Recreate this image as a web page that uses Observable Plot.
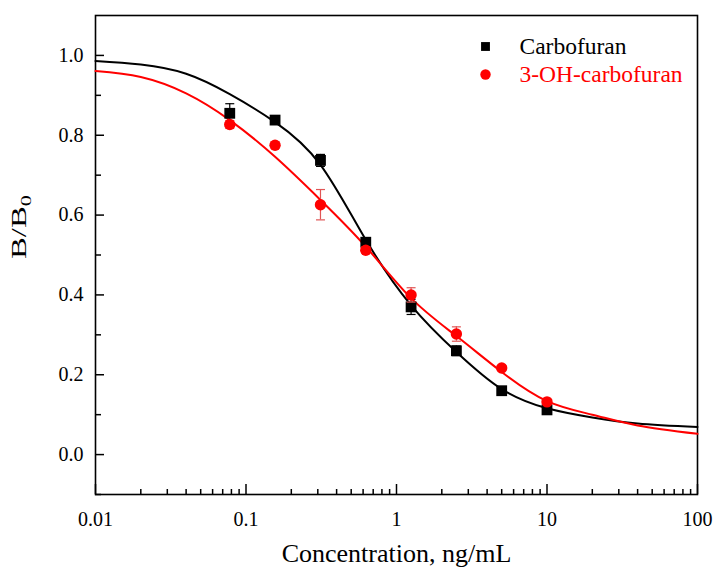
<!DOCTYPE html>
<html>
<head>
<meta charset="utf-8">
<script src="https://cdn.jsdelivr.net/npm/d3@7"></script>
<script src="https://cdn.jsdelivr.net/npm/@observablehq/plot@0.6"></script>
<style>
  body { margin: 0; background: #ffffff; }
  #chart svg { display: block; }
</style>
</head>
<body>
<div id="chart"></div>
<script>
// ---- measured points (concentration in ng/mL, B/B0) ----
const concentrations = [0.078, 0.156, 0.3125, 0.625, 1.25, 2.5, 5, 10];
const carbofuran     = [0.855, 0.838, 0.737, 0.532, 0.370, 0.260, 0.160, 0.112];
const carbofuranErr  = [0.024, 0.008, 0.015, 0.008, 0.019, 0.012, 0.006, 0.006];
const ohCarbofuran    = [0.827, 0.775, 0.626, 0.512, 0.400, 0.302, 0.217, 0.132];
const ohCarbofuranErr = [0.010, 0.008, 0.038, 0.008, 0.018, 0.018, 0.006, 0.006];

// ---- fitted curves ----
const fitConc          = [0.01, 0.02, 0.04, 0.078, 0.156, 0.3125, 0.625, 1.25, 2.5, 5, 10, 20, 40, 100];
const carbofuranFit    = [0.986, 0.977, 0.954, 0.903, 0.833, 0.726, 0.538, 0.374, 0.257, 0.164, 0.116, 0.093, 0.078, 0.069];
const ohCarbofuranFit  = [0.961, 0.946, 0.905, 0.838, 0.746, 0.638, 0.521, 0.392, 0.297, 0.207, 0.134, 0.100, 0.073, 0.052];

// ---- axes ----
const xMajorTicks = [0.01, 0.1, 1, 10, 100];
const xTickLabels = ["0.01", "0.1", "1", "10", "100"];
const xMinorTicks = [0.02,0.03,0.04,0.05,0.06,0.07,0.08,0.09,
                     0.2,0.3,0.4,0.5,0.6,0.7,0.8,0.9,
                     2,3,4,5,6,7,8,9,
                     20,30,40,50,60,70,80,90];
const yMajorTicks = [0.0, 0.2, 0.4, 0.6, 0.8, 1.0];
const yMinorTicks = [-0.1, 0.1, 0.3, 0.5, 0.7, 0.9];
const xDomain = [0.01, 100];
const yDomain = [-0.1, 1.1];

const seriesNames = ["Carbofuran", "3-OH-carbofuran"];
const xTitle = "Concentration, ng/mL";
const yTitle = "B/B0";

// ---- rows built from the arrays ----
const blackRows = concentrations.map((c, i) => ({x: c, y: carbofuran[i], e: carbofuranErr[i]}));
const redRows = concentrations.map((c, i) => ({x: c, y: ohCarbofuran[i], e: ohCarbofuranErr[i]}));
const blackFit = fitConc.map((c, i) => ({x: c, y: carbofuranFit[i]}));
const redFit = fitConc.map((c, i) => ({x: c, y: ohCarbofuranFit[i]}));
const xLabelOf = new Map(xMajorTicks.map((t, i) => [t, xTickLabels[i]]));

const capSymbol = {
  draw(ctx, size) {
    const h = Math.sqrt(size / Math.PI);
    ctx.moveTo(-h, 0);
    ctx.lineTo(h, 0);
  }
};

const RED = "#ff0000";
const ERR_RED = "#e05555";
const FONT = "'Liberation Serif', 'Times New Roman', serif";

const chart = Plot.plot({
  width: 713,
  height: 570,
  marginLeft: 95,
  marginRight: 16,
  marginTop: 15,
  marginBottom: 76,
  style: {fontFamily: FONT, fontSize: "20px", background: "#ffffff", color: "#000"},
  x: {type: "log", domain: xDomain},
  y: {domain: yDomain},
  marks: [
    // axes with inward ticks
    Plot.axisY(yMajorTicks, {tickSize: -9, tickPadding: 21, strokeWidth: 1.5,
      tickFormat: d3.format(".1f"), fontSize: 20, label: null}),
    Plot.axisY(yMinorTicks, {tickSize: -6, tickPadding: 0, strokeWidth: 1.5,
      tickFormat: () => "", label: null}),
    Plot.axisX(xMajorTicks, {tickSize: -10, tickPadding: 27, strokeWidth: 1.5,
      tickFormat: d => xLabelOf.get(d) ?? String(d), fontSize: 20, label: null}),
    Plot.axisX(xMinorTicks, {tickSize: -5, tickPadding: 0, strokeWidth: 1.5,
      tickFormat: () => "", label: null}),
    Plot.frame({stroke: "#000", strokeWidth: 1.6}),

    // fitted curves
    Plot.line(blackFit, {x: "x", y: "y", curve: "natural", stroke: "#000", strokeWidth: 2}),
    Plot.line(redFit, {x: "x", y: "y", curve: "natural", stroke: RED, strokeWidth: 2}),

    // carbofuran error bars + points
    Plot.ruleX(blackRows, {x: "x", y1: d => d.y - d.e, y2: d => d.y + d.e, stroke: "#000", strokeWidth: 1.2}),
    Plot.dot(blackRows, {x: "x", y: d => d.y + d.e, symbol: capSymbol, r: 4.5, stroke: "#000", strokeWidth: 1.2, fill: "none"}),
    Plot.dot(blackRows, {x: "x", y: d => d.y - d.e, symbol: capSymbol, r: 4.5, stroke: "#000", strokeWidth: 1.2, fill: "none"}),
    Plot.dot(blackRows, {x: "x", y: "y", symbol: "square", r: 6.1, fill: "#000", stroke: "none"}),

    // 3-OH-carbofuran error bars + points
    Plot.ruleX(redRows, {x: "x", y1: d => d.y - d.e, y2: d => d.y + d.e, stroke: ERR_RED, strokeWidth: 1.2}),
    Plot.dot(redRows, {x: "x", y: d => d.y + d.e, symbol: capSymbol, r: 4.5, stroke: ERR_RED, strokeWidth: 1.2, fill: "none"}),
    Plot.dot(redRows, {x: "x", y: d => d.y - d.e, symbol: capSymbol, r: 4.5, stroke: ERR_RED, strokeWidth: 1.2, fill: "none"}),
    Plot.dot(redRows, {x: "x", y: "y", symbol: "circle", r: 5.7, fill: RED, stroke: "none"}),

    // legend
    Plot.dot([seriesNames[0]], {frameAnchor: "top-right", dx: -212, dy: 31, symbol: "square", r: 5, fill: "#000"}),
    Plot.text([seriesNames[0]], {frameAnchor: "top-right", dx: -178, dy: 31, text: d => d,
      textAnchor: "start", lineAnchor: "middle", fontSize: 23.5, fill: "#000"}),
    Plot.dot([seriesNames[1]], {frameAnchor: "top-right", dx: -212, dy: 59, symbol: "circle", r: 5.2, fill: RED}),
    Plot.text([seriesNames[1]], {frameAnchor: "top-right", dx: -178, dy: 59, text: d => d,
      textAnchor: "start", lineAnchor: "middle", fontSize: 23.5, fill: RED}),

    // axis titles
    Plot.text([xTitle], {frameAnchor: "bottom", dy: 59, text: d => d, lineAnchor: "middle", fontSize: 26, fill: "#000"}),
    Plot.text([yTitle], {frameAnchor: "left", dx: -77, dy: 4, rotate: -90, text: d => d,
      lineAnchor: "middle", fontSize: 22, fill: "#000", className: "ytitle"})
  ]
});

document.getElementById("chart").appendChild(chart);

// subscript for B/B0, stretched like the reference
const yt = d3.select(chart).select("g.ytitle text");
if (!yt.empty()) {
  const txt = yt.text();
  yt.text(null);
  yt.append("tspan").text(txt.slice(0, -1));
  yt.append("tspan").attr("font-size", 15).attr("dy", "0.35em").text(txt.slice(-1));
  yt.attr("textLength", 64).attr("lengthAdjust", "spacingAndGlyphs");
}
</script>
</body>
</html>
